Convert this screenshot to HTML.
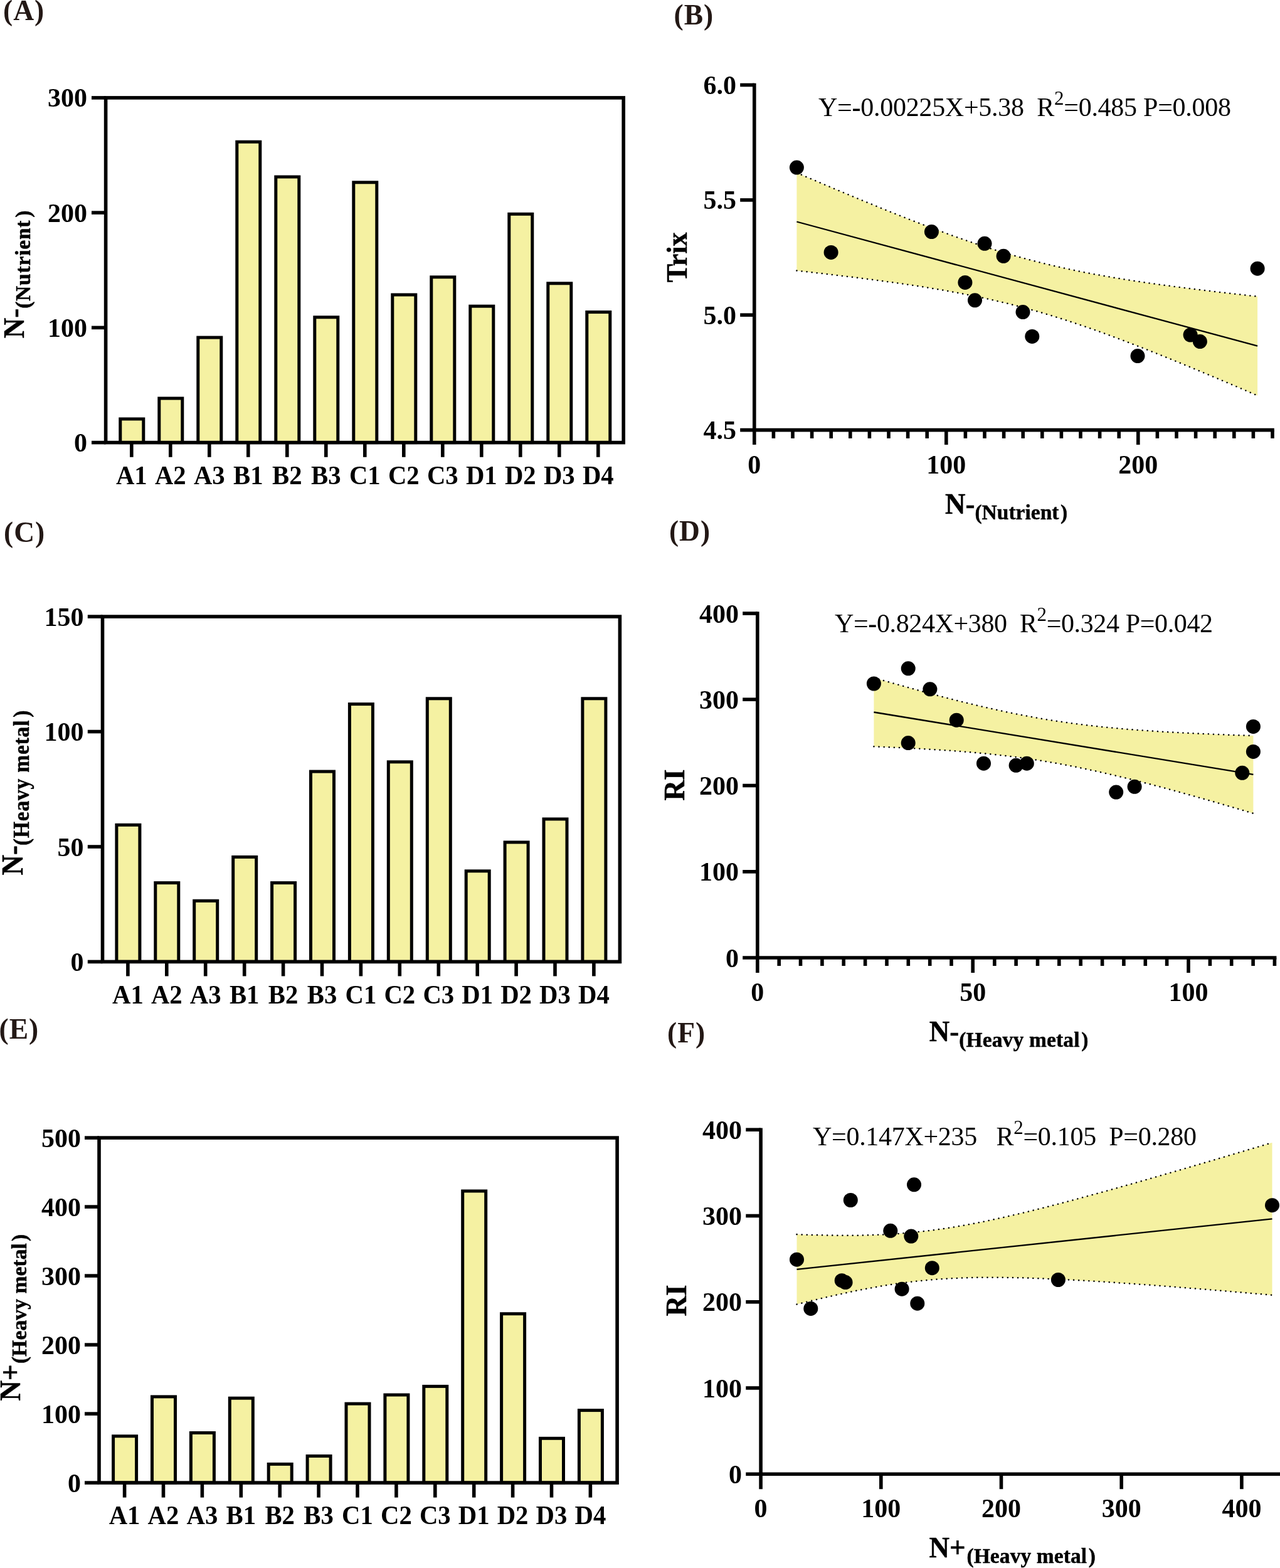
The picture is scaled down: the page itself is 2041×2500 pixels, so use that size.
<!DOCTYPE html>
<html lang="en">
<head>
<meta charset="utf-8">
<title>Figure: N- / N+ indices and regressions</title>
<style>
html,body{margin:0;padding:0;background:#fff;}
body{width:2041px;height:2500px;overflow:hidden;}
svg{display:block;}
svg text{font-family:"Liberation Serif","DejaVu Serif",serif;}
svg .ax{stroke:#000;fill:none;stroke-linecap:butt;stroke-linejoin:miter;}
</style>
</head>
<body>
<svg width="2041" height="2500" viewBox="0 0 2041 2500" role="img" aria-label="Six-panel figure: bar charts of N- and N+ indices by site and regressions against Trix and RI">
<rect width="2041" height="2500" fill="#fff"/>
<text x="5" y="32" font-size="45.5" text-anchor="start" font-weight="bold" fill="#231815" letter-spacing="1">(A)</text>
<text x="1074.6" y="39.2" font-size="45.5" text-anchor="start" font-weight="bold" fill="#231815" letter-spacing="1">(B)</text>
<text x="6.1" y="863.8" font-size="45.5" text-anchor="start" font-weight="bold" fill="#231815" letter-spacing="1">(C)</text>
<text x="1066.9" y="862" font-size="45.5" text-anchor="start" font-weight="bold" fill="#231815" letter-spacing="1">(D)</text>
<text x="-1.5" y="1655.8" font-size="45.5" text-anchor="start" font-weight="bold" fill="#231815" letter-spacing="1">(E)</text>
<text x="1064" y="1661.9" font-size="45.5" text-anchor="start" font-weight="bold" fill="#231815" letter-spacing="1">(F)</text>
<g class="ax">
<rect x="191.8" y="668" width="37" height="37.6" fill="#f5f1a2" stroke-width="5"/>
<rect x="253.8" y="635.1" width="37" height="70.5" fill="#f5f1a2" stroke-width="5"/>
<rect x="315.8" y="538.1" width="37" height="167.5" fill="#f5f1a2" stroke-width="5"/>
<rect x="377.8" y="226.2" width="37" height="479.4" fill="#f5f1a2" stroke-width="5"/>
<rect x="439.8" y="282" width="37" height="423.6" fill="#f5f1a2" stroke-width="5"/>
<rect x="501.8" y="505.8" width="37" height="199.8" fill="#f5f1a2" stroke-width="5"/>
<rect x="563.8" y="290.8" width="37" height="414.8" fill="#f5f1a2" stroke-width="5"/>
<rect x="625.8" y="470" width="37" height="235.6" fill="#f5f1a2" stroke-width="5"/>
<rect x="687.8" y="441.8" width="37" height="263.8" fill="#f5f1a2" stroke-width="5"/>
<rect x="749.8" y="488.2" width="37" height="217.4" fill="#f5f1a2" stroke-width="5"/>
<rect x="811.8" y="341.3" width="37" height="364.3" fill="#f5f1a2" stroke-width="5"/>
<rect x="873.8" y="451.8" width="37" height="253.8" fill="#f5f1a2" stroke-width="5"/>
<rect x="935.8" y="497.6" width="37" height="208" fill="#f5f1a2" stroke-width="5"/>
<rect x="168.6" y="155.9" width="825.6" height="549.7" fill="none" stroke-width="5.6"/>
<line x1="146" y1="155.9" x2="168.6" y2="155.9" stroke-width="5.6"/>
<line x1="146" y1="339.1" x2="168.6" y2="339.1" stroke-width="5.6"/>
<line x1="146" y1="522.4" x2="168.6" y2="522.4" stroke-width="5.6"/>
<line x1="146" y1="705.6" x2="168.6" y2="705.6" stroke-width="5.6"/>
<line x1="209.8" y1="705.6" x2="209.8" y2="728.8" stroke-width="5.6"/>
<line x1="271.8" y1="705.6" x2="271.8" y2="728.8" stroke-width="5.6"/>
<line x1="333.8" y1="705.6" x2="333.8" y2="728.8" stroke-width="5.6"/>
<line x1="395.8" y1="705.6" x2="395.8" y2="728.8" stroke-width="5.6"/>
<line x1="457.8" y1="705.6" x2="457.8" y2="728.8" stroke-width="5.6"/>
<line x1="519.8" y1="705.6" x2="519.8" y2="728.8" stroke-width="5.6"/>
<line x1="581.8" y1="705.6" x2="581.8" y2="728.8" stroke-width="5.6"/>
<line x1="643.8" y1="705.6" x2="643.8" y2="728.8" stroke-width="5.6"/>
<line x1="705.8" y1="705.6" x2="705.8" y2="728.8" stroke-width="5.6"/>
<line x1="767.8" y1="705.6" x2="767.8" y2="728.8" stroke-width="5.6"/>
<line x1="829.8" y1="705.6" x2="829.8" y2="728.8" stroke-width="5.6"/>
<line x1="891.8" y1="705.6" x2="891.8" y2="728.8" stroke-width="5.6"/>
<line x1="953.8" y1="705.6" x2="953.8" y2="728.8" stroke-width="5.6"/>
</g>
<text x="139" y="170.4" font-size="42" text-anchor="end" font-weight="bold" fill="#000">300</text>
<text x="139" y="353.6" font-size="42" text-anchor="end" font-weight="bold" fill="#000">200</text>
<text x="139" y="536.9" font-size="42" text-anchor="end" font-weight="bold" fill="#000">100</text>
<text x="139" y="720.1" font-size="42" text-anchor="end" font-weight="bold" fill="#000">0</text>
<text transform="translate(209.8 772) scale(0.97 1)" font-size="42" text-anchor="middle" font-weight="bold" fill="#000">A1</text>
<text transform="translate(271.8 772) scale(0.97 1)" font-size="42" text-anchor="middle" font-weight="bold" fill="#000">A2</text>
<text transform="translate(333.8 772) scale(0.97 1)" font-size="42" text-anchor="middle" font-weight="bold" fill="#000">A3</text>
<text transform="translate(395.8 772) scale(0.97 1)" font-size="42" text-anchor="middle" font-weight="bold" fill="#000">B1</text>
<text transform="translate(457.8 772) scale(0.97 1)" font-size="42" text-anchor="middle" font-weight="bold" fill="#000">B2</text>
<text transform="translate(519.8 772) scale(0.97 1)" font-size="42" text-anchor="middle" font-weight="bold" fill="#000">B3</text>
<text transform="translate(581.8 772) scale(0.97 1)" font-size="42" text-anchor="middle" font-weight="bold" fill="#000">C1</text>
<text transform="translate(643.8 772) scale(0.97 1)" font-size="42" text-anchor="middle" font-weight="bold" fill="#000">C2</text>
<text transform="translate(705.8 772) scale(0.97 1)" font-size="42" text-anchor="middle" font-weight="bold" fill="#000">C3</text>
<text transform="translate(767.8 772) scale(0.97 1)" font-size="42" text-anchor="middle" font-weight="bold" fill="#000">D1</text>
<text transform="translate(829.8 772) scale(0.97 1)" font-size="42" text-anchor="middle" font-weight="bold" fill="#000">D2</text>
<text transform="translate(891.8 772) scale(0.97 1)" font-size="42" text-anchor="middle" font-weight="bold" fill="#000">D3</text>
<text transform="translate(953.8 772) scale(0.97 1)" font-size="42" text-anchor="middle" font-weight="bold" fill="#000">D4</text>
<text transform="translate(38 539.3) rotate(-90) scale(1 1.03)" font-size="45" font-weight="bold" fill="#000" stroke="#000" stroke-width="0.5" stroke-linejoin="round" text-anchor="start">N-<tspan font-size="33.5" dx="0" dy="9.3" letter-spacing="0.8">(Nutrient</tspan><tspan font-size="33.5" dx="4">)</tspan></text>
<g class="ax">
<rect x="185.9" y="1315.3" width="37" height="218.1" fill="#f5f1a2" stroke-width="5"/>
<rect x="247.8" y="1407.6" width="37" height="125.8" fill="#f5f1a2" stroke-width="5"/>
<rect x="309.7" y="1436.3" width="37" height="97.1" fill="#f5f1a2" stroke-width="5"/>
<rect x="371.7" y="1366.4" width="37" height="167" fill="#f5f1a2" stroke-width="5"/>
<rect x="433.6" y="1407.6" width="37" height="125.8" fill="#f5f1a2" stroke-width="5"/>
<rect x="495.5" y="1230.1" width="37" height="303.3" fill="#f5f1a2" stroke-width="5"/>
<rect x="557.4" y="1122.6" width="37" height="410.8" fill="#f5f1a2" stroke-width="5"/>
<rect x="619.3" y="1214.8" width="37" height="318.6" fill="#f5f1a2" stroke-width="5"/>
<rect x="681.3" y="1113.8" width="37" height="419.6" fill="#f5f1a2" stroke-width="5"/>
<rect x="743.2" y="1388.8" width="37" height="144.6" fill="#f5f1a2" stroke-width="5"/>
<rect x="805.1" y="1342.9" width="37" height="190.5" fill="#f5f1a2" stroke-width="5"/>
<rect x="867" y="1305.9" width="37" height="227.5" fill="#f5f1a2" stroke-width="5"/>
<rect x="928.9" y="1113.8" width="37" height="419.6" fill="#f5f1a2" stroke-width="5"/>
<rect x="163.5" y="983.1" width="824.9" height="550.3" fill="none" stroke-width="5.6"/>
<line x1="139.8" y1="983.1" x2="163.5" y2="983.1" stroke-width="5.6"/>
<line x1="139.8" y1="1166.5" x2="163.5" y2="1166.5" stroke-width="5.6"/>
<line x1="139.8" y1="1350" x2="163.5" y2="1350" stroke-width="5.6"/>
<line x1="139.8" y1="1533.4" x2="163.5" y2="1533.4" stroke-width="5.6"/>
<line x1="203.9" y1="1533.4" x2="203.9" y2="1556.4" stroke-width="5.6"/>
<line x1="265.8" y1="1533.4" x2="265.8" y2="1556.4" stroke-width="5.6"/>
<line x1="327.7" y1="1533.4" x2="327.7" y2="1556.4" stroke-width="5.6"/>
<line x1="389.7" y1="1533.4" x2="389.7" y2="1556.4" stroke-width="5.6"/>
<line x1="451.6" y1="1533.4" x2="451.6" y2="1556.4" stroke-width="5.6"/>
<line x1="513.5" y1="1533.4" x2="513.5" y2="1556.4" stroke-width="5.6"/>
<line x1="575.4" y1="1533.4" x2="575.4" y2="1556.4" stroke-width="5.6"/>
<line x1="637.3" y1="1533.4" x2="637.3" y2="1556.4" stroke-width="5.6"/>
<line x1="699.3" y1="1533.4" x2="699.3" y2="1556.4" stroke-width="5.6"/>
<line x1="761.2" y1="1533.4" x2="761.2" y2="1556.4" stroke-width="5.6"/>
<line x1="823.1" y1="1533.4" x2="823.1" y2="1556.4" stroke-width="5.6"/>
<line x1="885" y1="1533.4" x2="885" y2="1556.4" stroke-width="5.6"/>
<line x1="946.9" y1="1533.4" x2="946.9" y2="1556.4" stroke-width="5.6"/>
</g>
<text x="133.5" y="997.9" font-size="42" text-anchor="end" font-weight="bold" fill="#000">150</text>
<text x="133.5" y="1181.3" font-size="42" text-anchor="end" font-weight="bold" fill="#000">100</text>
<text x="133.5" y="1364.8" font-size="42" text-anchor="end" font-weight="bold" fill="#000">50</text>
<text x="133.5" y="1548.2" font-size="42" text-anchor="end" font-weight="bold" fill="#000">0</text>
<text transform="translate(203.9 1600) scale(0.97 1)" font-size="42" text-anchor="middle" font-weight="bold" fill="#000">A1</text>
<text transform="translate(265.8 1600) scale(0.97 1)" font-size="42" text-anchor="middle" font-weight="bold" fill="#000">A2</text>
<text transform="translate(327.7 1600) scale(0.97 1)" font-size="42" text-anchor="middle" font-weight="bold" fill="#000">A3</text>
<text transform="translate(389.7 1600) scale(0.97 1)" font-size="42" text-anchor="middle" font-weight="bold" fill="#000">B1</text>
<text transform="translate(451.6 1600) scale(0.97 1)" font-size="42" text-anchor="middle" font-weight="bold" fill="#000">B2</text>
<text transform="translate(513.5 1600) scale(0.97 1)" font-size="42" text-anchor="middle" font-weight="bold" fill="#000">B3</text>
<text transform="translate(575.4 1600) scale(0.97 1)" font-size="42" text-anchor="middle" font-weight="bold" fill="#000">C1</text>
<text transform="translate(637.3 1600) scale(0.97 1)" font-size="42" text-anchor="middle" font-weight="bold" fill="#000">C2</text>
<text transform="translate(699.3 1600) scale(0.97 1)" font-size="42" text-anchor="middle" font-weight="bold" fill="#000">C3</text>
<text transform="translate(761.2 1600) scale(0.97 1)" font-size="42" text-anchor="middle" font-weight="bold" fill="#000">D1</text>
<text transform="translate(823.1 1600) scale(0.97 1)" font-size="42" text-anchor="middle" font-weight="bold" fill="#000">D2</text>
<text transform="translate(885 1600) scale(0.97 1)" font-size="42" text-anchor="middle" font-weight="bold" fill="#000">D3</text>
<text transform="translate(946.9 1600) scale(0.97 1)" font-size="42" text-anchor="middle" font-weight="bold" fill="#000">D4</text>
<text transform="translate(36 1395.5) rotate(-90) scale(1 1.08)" font-size="45" font-weight="bold" fill="#000" stroke="#000" stroke-width="0.5" stroke-linejoin="round" text-anchor="start">N-<tspan font-size="33.5" dx="0" dy="8.8" letter-spacing="0.8">(Heavy metal</tspan><tspan font-size="33.5" dx="4">)</tspan></text>
<g class="ax">
<rect x="180.6" y="2289.8" width="37" height="74.3" fill="#f5f1a2" stroke-width="5"/>
<rect x="242.5" y="2226.9" width="37" height="137.2" fill="#f5f1a2" stroke-width="5"/>
<rect x="304.4" y="2284.5" width="37" height="79.6" fill="#f5f1a2" stroke-width="5"/>
<rect x="366.3" y="2229.2" width="37" height="134.9" fill="#f5f1a2" stroke-width="5"/>
<rect x="428.2" y="2334.4" width="37" height="29.7" fill="#f5f1a2" stroke-width="5"/>
<rect x="490.1" y="2321.5" width="37" height="42.6" fill="#f5f1a2" stroke-width="5"/>
<rect x="552" y="2238.1" width="37" height="126" fill="#f5f1a2" stroke-width="5"/>
<rect x="613.9" y="2224" width="37" height="140.1" fill="#f5f1a2" stroke-width="5"/>
<rect x="675.8" y="2210.4" width="37" height="153.7" fill="#f5f1a2" stroke-width="5"/>
<rect x="737.7" y="1899" width="37" height="465.1" fill="#f5f1a2" stroke-width="5"/>
<rect x="799.6" y="2094.7" width="37" height="269.4" fill="#f5f1a2" stroke-width="5"/>
<rect x="861.5" y="2293.3" width="37" height="70.8" fill="#f5f1a2" stroke-width="5"/>
<rect x="923.4" y="2248.6" width="37" height="115.5" fill="#f5f1a2" stroke-width="5"/>
<rect x="158" y="1814.1" width="826.1" height="550" fill="none" stroke-width="5.6"/>
<line x1="135" y1="1814.1" x2="158" y2="1814.1" stroke-width="5.6"/>
<line x1="135" y1="1924.1" x2="158" y2="1924.1" stroke-width="5.6"/>
<line x1="135" y1="2034.1" x2="158" y2="2034.1" stroke-width="5.6"/>
<line x1="135" y1="2144.1" x2="158" y2="2144.1" stroke-width="5.6"/>
<line x1="135" y1="2254.1" x2="158" y2="2254.1" stroke-width="5.6"/>
<line x1="135" y1="2364.1" x2="158" y2="2364.1" stroke-width="5.6"/>
<line x1="198.6" y1="2364.1" x2="198.6" y2="2387.6" stroke-width="5.6"/>
<line x1="260.5" y1="2364.1" x2="260.5" y2="2387.6" stroke-width="5.6"/>
<line x1="322.4" y1="2364.1" x2="322.4" y2="2387.6" stroke-width="5.6"/>
<line x1="384.3" y1="2364.1" x2="384.3" y2="2387.6" stroke-width="5.6"/>
<line x1="446.2" y1="2364.1" x2="446.2" y2="2387.6" stroke-width="5.6"/>
<line x1="508.1" y1="2364.1" x2="508.1" y2="2387.6" stroke-width="5.6"/>
<line x1="570" y1="2364.1" x2="570" y2="2387.6" stroke-width="5.6"/>
<line x1="631.9" y1="2364.1" x2="631.9" y2="2387.6" stroke-width="5.6"/>
<line x1="693.8" y1="2364.1" x2="693.8" y2="2387.6" stroke-width="5.6"/>
<line x1="755.7" y1="2364.1" x2="755.7" y2="2387.6" stroke-width="5.6"/>
<line x1="817.6" y1="2364.1" x2="817.6" y2="2387.6" stroke-width="5.6"/>
<line x1="879.5" y1="2364.1" x2="879.5" y2="2387.6" stroke-width="5.6"/>
<line x1="941.4" y1="2364.1" x2="941.4" y2="2387.6" stroke-width="5.6"/>
</g>
<text x="129" y="1828.6" font-size="42" text-anchor="end" font-weight="bold" fill="#000">500</text>
<text x="129" y="1938.6" font-size="42" text-anchor="end" font-weight="bold" fill="#000">400</text>
<text x="129" y="2048.6" font-size="42" text-anchor="end" font-weight="bold" fill="#000">300</text>
<text x="129" y="2158.6" font-size="42" text-anchor="end" font-weight="bold" fill="#000">200</text>
<text x="129" y="2268.6" font-size="42" text-anchor="end" font-weight="bold" fill="#000">100</text>
<text x="129" y="2378.6" font-size="42" text-anchor="end" font-weight="bold" fill="#000">0</text>
<text transform="translate(198.6 2430) scale(0.97 1)" font-size="42" text-anchor="middle" font-weight="bold" fill="#000">A1</text>
<text transform="translate(260.5 2430) scale(0.97 1)" font-size="42" text-anchor="middle" font-weight="bold" fill="#000">A2</text>
<text transform="translate(322.4 2430) scale(0.97 1)" font-size="42" text-anchor="middle" font-weight="bold" fill="#000">A3</text>
<text transform="translate(384.3 2430) scale(0.97 1)" font-size="42" text-anchor="middle" font-weight="bold" fill="#000">B1</text>
<text transform="translate(446.2 2430) scale(0.97 1)" font-size="42" text-anchor="middle" font-weight="bold" fill="#000">B2</text>
<text transform="translate(508.1 2430) scale(0.97 1)" font-size="42" text-anchor="middle" font-weight="bold" fill="#000">B3</text>
<text transform="translate(570 2430) scale(0.97 1)" font-size="42" text-anchor="middle" font-weight="bold" fill="#000">C1</text>
<text transform="translate(631.9 2430) scale(0.97 1)" font-size="42" text-anchor="middle" font-weight="bold" fill="#000">C2</text>
<text transform="translate(693.8 2430) scale(0.97 1)" font-size="42" text-anchor="middle" font-weight="bold" fill="#000">C3</text>
<text transform="translate(755.7 2430) scale(0.97 1)" font-size="42" text-anchor="middle" font-weight="bold" fill="#000">D1</text>
<text transform="translate(817.6 2430) scale(0.97 1)" font-size="42" text-anchor="middle" font-weight="bold" fill="#000">D2</text>
<text transform="translate(879.5 2430) scale(0.97 1)" font-size="42" text-anchor="middle" font-weight="bold" fill="#000">D3</text>
<text transform="translate(941.4 2430) scale(0.97 1)" font-size="42" text-anchor="middle" font-weight="bold" fill="#000">D4</text>
<text transform="translate(32 2233.5) rotate(-90) scale(1 1.03)" font-size="45" font-weight="bold" fill="#000" stroke="#000" stroke-width="0.5" stroke-linejoin="round" text-anchor="start">N+<tspan font-size="33.5" dx="1.5" dy="9.3" letter-spacing="0.1">(Heavy metal</tspan><tspan font-size="33.5" dx="3">)</tspan></text>
<path d="M1270.4 275.4 L1285.7 282 L1301 288.5 L1316.3 295 L1331.6 301.5 L1346.9 307.9 L1362.2 314.3 L1377.5 320.6 L1392.9 326.9 L1408.2 333.2 L1423.5 339.3 L1438.8 345.4 L1454.1 351.4 L1469.4 357.3 L1484.7 363.1 L1500 368.8 L1515.3 374.4 L1530.6 379.9 L1545.9 385.2 L1561.2 390.3 L1576.5 395.3 L1591.8 400.1 L1607.1 404.7 L1622.4 409 L1637.8 413.2 L1653.1 417.2 L1668.4 421 L1683.7 424.6 L1699 428 L1714.3 431.2 L1729.6 434.3 L1744.9 437.2 L1760.2 439.9 L1775.5 442.6 L1790.8 445.1 L1806.1 447.5 L1821.4 449.8 L1836.7 452 L1852 454.2 L1867.3 456.2 L1882.7 458.2 L1898 460.2 L1913.3 462.1 L1928.6 463.9 L1943.9 465.8 L1959.2 467.5 L1974.5 469.3 L1989.8 471 L2005.1 472.7 L2005.1 630.7 L1989.8 624.2 L1974.5 617.6 L1959.2 611.1 L1943.9 604.6 L1928.6 598.2 L1913.3 591.8 L1898 585.4 L1882.7 579.1 L1867.3 572.9 L1852 566.7 L1836.7 560.6 L1821.4 554.5 L1806.1 548.6 L1790.8 542.7 L1775.5 537 L1760.2 531.3 L1744.9 525.8 L1729.6 520.5 L1714.3 515.3 L1699 510.2 L1683.7 505.4 L1668.4 500.7 L1653.1 496.2 L1637.8 492 L1622.4 487.9 L1607.1 484 L1591.8 480.4 L1576.5 476.9 L1561.2 473.6 L1545.9 470.5 L1530.6 467.5 L1515.3 464.7 L1500 462 L1484.7 459.5 L1469.4 457 L1454.1 454.7 L1438.8 452.4 L1423.5 450.3 L1408.2 448.2 L1392.9 446.1 L1377.5 444.2 L1362.2 442.2 L1346.9 440.4 L1331.6 438.5 L1316.3 436.7 L1301 435 L1285.7 433.2 L1270.4 431.6 Z" fill="#f5f1a2" stroke="none"/>
<path d="M1270.4 275.4 L1285.7 282 L1301 288.5 L1316.3 295 L1331.6 301.5 L1346.9 307.9 L1362.2 314.3 L1377.5 320.6 L1392.9 326.9 L1408.2 333.2 L1423.5 339.3 L1438.8 345.4 L1454.1 351.4 L1469.4 357.3 L1484.7 363.1 L1500 368.8 L1515.3 374.4 L1530.6 379.9 L1545.9 385.2 L1561.2 390.3 L1576.5 395.3 L1591.8 400.1 L1607.1 404.7 L1622.4 409 L1637.8 413.2 L1653.1 417.2 L1668.4 421 L1683.7 424.6 L1699 428 L1714.3 431.2 L1729.6 434.3 L1744.9 437.2 L1760.2 439.9 L1775.5 442.6 L1790.8 445.1 L1806.1 447.5 L1821.4 449.8 L1836.7 452 L1852 454.2 L1867.3 456.2 L1882.7 458.2 L1898 460.2 L1913.3 462.1 L1928.6 463.9 L1943.9 465.8 L1959.2 467.5 L1974.5 469.3 L1989.8 471 L2005.1 472.7" fill="none" stroke="#000" stroke-width="2.5" stroke-dasharray="0.1 8" stroke-linecap="round"/>
<path d="M1270.4 431.6 L1285.7 433.2 L1301 435 L1316.3 436.7 L1331.6 438.5 L1346.9 440.4 L1362.2 442.2 L1377.5 444.2 L1392.9 446.1 L1408.2 448.2 L1423.5 450.3 L1438.8 452.4 L1454.1 454.7 L1469.4 457 L1484.7 459.5 L1500 462 L1515.3 464.7 L1530.6 467.5 L1545.9 470.5 L1561.2 473.6 L1576.5 476.9 L1591.8 480.4 L1607.1 484 L1622.4 487.9 L1637.8 492 L1653.1 496.2 L1668.4 500.7 L1683.7 505.4 L1699 510.2 L1714.3 515.3 L1729.6 520.5 L1744.9 525.8 L1760.2 531.3 L1775.5 537 L1790.8 542.7 L1806.1 548.6 L1821.4 554.5 L1836.7 560.6 L1852 566.7 L1867.3 572.9 L1882.7 579.1 L1898 585.4 L1913.3 591.8 L1928.6 598.2 L1943.9 604.6 L1959.2 611.1 L1974.5 617.6 L1989.8 624.2 L2005.1 630.7" fill="none" stroke="#000" stroke-width="2.5" stroke-dasharray="0.1 8" stroke-linecap="round"/>
<line x1="1270.4" y1="353.5" x2="2005.1" y2="551.7" stroke="#000" stroke-width="2.3"/>
<circle cx="1270.4" cy="267.1" r="11.5" fill="#000"/>
<circle cx="1325.1" cy="402.4" r="11.5" fill="#000"/>
<circle cx="1485.4" cy="369.6" r="11.5" fill="#000"/>
<circle cx="1570" cy="388.3" r="11.5" fill="#000"/>
<circle cx="1600.1" cy="408.3" r="11.5" fill="#000"/>
<circle cx="1538.9" cy="450.4" r="11.5" fill="#000"/>
<circle cx="1554.5" cy="478.8" r="11.5" fill="#000"/>
<circle cx="1631" cy="497.6" r="11.5" fill="#000"/>
<circle cx="1645.8" cy="536.4" r="11.5" fill="#000"/>
<circle cx="1814" cy="567.6" r="11.5" fill="#000"/>
<circle cx="1898.1" cy="534" r="11.5" fill="#000"/>
<circle cx="1913.4" cy="544.6" r="11.5" fill="#000"/>
<circle cx="2005.1" cy="428.2" r="11.5" fill="#000"/>
<g class="ax">
<line x1="1202.8" y1="132.7" x2="1202.8" y2="709.1" stroke-width="5.6"/>
<line x1="1180.2" y1="685.6" x2="2031.8" y2="685.6" stroke-width="5.6"/>
<line x1="1180.2" y1="135.5" x2="1202.8" y2="135.5" stroke-width="5.6"/>
<line x1="1180.2" y1="318.9" x2="1202.8" y2="318.9" stroke-width="5.6"/>
<line x1="1180.2" y1="502.2" x2="1202.8" y2="502.2" stroke-width="5.6"/>
<line x1="1508.8" y1="685.6" x2="1508.8" y2="709.1" stroke-width="5.6"/>
<line x1="1814.8" y1="685.6" x2="1814.8" y2="709.1" stroke-width="5.6"/>
<line x1="1233.4" y1="685.6" x2="1233.4" y2="698.9" stroke-width="5.6"/>
<line x1="1264" y1="685.6" x2="1264" y2="698.9" stroke-width="5.6"/>
<line x1="1294.6" y1="685.6" x2="1294.6" y2="698.9" stroke-width="5.6"/>
<line x1="1325.2" y1="685.6" x2="1325.2" y2="698.9" stroke-width="5.6"/>
<line x1="1355.8" y1="685.6" x2="1355.8" y2="698.9" stroke-width="5.6"/>
<line x1="1386.4" y1="685.6" x2="1386.4" y2="698.9" stroke-width="5.6"/>
<line x1="1417" y1="685.6" x2="1417" y2="698.9" stroke-width="5.6"/>
<line x1="1447.6" y1="685.6" x2="1447.6" y2="698.9" stroke-width="5.6"/>
<line x1="1478.2" y1="685.6" x2="1478.2" y2="698.9" stroke-width="5.6"/>
<line x1="1539.4" y1="685.6" x2="1539.4" y2="698.9" stroke-width="5.6"/>
<line x1="1570" y1="685.6" x2="1570" y2="698.9" stroke-width="5.6"/>
<line x1="1600.6" y1="685.6" x2="1600.6" y2="698.9" stroke-width="5.6"/>
<line x1="1631.2" y1="685.6" x2="1631.2" y2="698.9" stroke-width="5.6"/>
<line x1="1661.8" y1="685.6" x2="1661.8" y2="698.9" stroke-width="5.6"/>
<line x1="1692.4" y1="685.6" x2="1692.4" y2="698.9" stroke-width="5.6"/>
<line x1="1723" y1="685.6" x2="1723" y2="698.9" stroke-width="5.6"/>
<line x1="1753.6" y1="685.6" x2="1753.6" y2="698.9" stroke-width="5.6"/>
<line x1="1784.2" y1="685.6" x2="1784.2" y2="698.9" stroke-width="5.6"/>
<line x1="1845.4" y1="685.6" x2="1845.4" y2="698.9" stroke-width="5.6"/>
<line x1="1876" y1="685.6" x2="1876" y2="698.9" stroke-width="5.6"/>
<line x1="1906.6" y1="685.6" x2="1906.6" y2="698.9" stroke-width="5.6"/>
<line x1="1937.2" y1="685.6" x2="1937.2" y2="698.9" stroke-width="5.6"/>
<line x1="1967.8" y1="685.6" x2="1967.8" y2="698.9" stroke-width="5.6"/>
<line x1="1998.4" y1="685.6" x2="1998.4" y2="698.9" stroke-width="5.6"/>
<line x1="2029" y1="685.6" x2="2029" y2="698.9" stroke-width="5.6"/>
</g>
<text x="1174" y="150" font-size="42" text-anchor="end" font-weight="bold" fill="#000">6.0</text>
<text x="1174" y="333.4" font-size="42" text-anchor="end" font-weight="bold" fill="#000">5.5</text>
<text x="1174" y="516.7" font-size="42" text-anchor="end" font-weight="bold" fill="#000">5.0</text>
<text x="1174" y="700.1" font-size="42" text-anchor="end" font-weight="bold" fill="#000">4.5</text>
<text x="1202.8" y="754.5" font-size="42" text-anchor="middle" font-weight="bold" fill="#000">0</text>
<text x="1508.8" y="754.5" font-size="42" text-anchor="middle" font-weight="bold" fill="#000">100</text>
<text x="1814.8" y="754.5" font-size="42" text-anchor="middle" font-weight="bold" fill="#000">200</text>
<text x="1305" y="185" font-size="42" fill="#000" style="white-space:pre" textLength="658" lengthAdjust="spacing">Y=<tspan font-weight="bold">-</tspan>0.00225X+5.38  R<tspan font-size="31" dy="-18.5">2</tspan><tspan dy="18.5">=0.485 P=0.008</tspan></text>
<text transform="translate(1095 410.3) rotate(-90) scale(1 1.07)" font-size="44" font-weight="bold" fill="#000" stroke="#000" stroke-width="0.5" stroke-linejoin="round" text-anchor="middle">Trix</text>
<text transform="translate(1507 819) scale(1 1.03)" font-size="45" font-weight="bold" fill="#000" stroke="#000" stroke-width="0.5" stroke-linejoin="round" text-anchor="start">N-<tspan font-size="33.5" dx="0" dy="8.6" letter-spacing="0">(Nutrient</tspan><tspan font-size="33.5" dx="2.5">)</tspan></text>
<path d="M1393.4 1080.6 L1406 1084.2 L1418.6 1087.8 L1431.2 1091.4 L1443.8 1094.9 L1456.4 1098.4 L1469 1101.9 L1481.6 1105.3 L1494.2 1108.7 L1506.8 1112 L1519.4 1115.2 L1532 1118.4 L1544.7 1121.5 L1557.3 1124.5 L1569.9 1127.5 L1582.5 1130.3 L1595.1 1133.1 L1607.7 1135.8 L1620.3 1138.3 L1632.9 1140.8 L1645.5 1143.1 L1658.1 1145.4 L1670.7 1147.5 L1683.3 1149.5 L1695.9 1151.3 L1708.5 1153.1 L1721.1 1154.7 L1733.7 1156.3 L1746.3 1157.7 L1758.9 1159.1 L1771.5 1160.3 L1784.1 1161.5 L1796.7 1162.6 L1809.3 1163.6 L1821.9 1164.5 L1834.5 1165.4 L1847.2 1166.2 L1859.8 1167 L1872.4 1167.7 L1885 1168.4 L1897.6 1169 L1910.2 1169.6 L1922.8 1170.1 L1935.4 1170.7 L1948 1171.2 L1960.6 1171.7 L1973.2 1172.1 L1985.8 1172.5 L1998.4 1172.9 L1998.4 1296.8 L1985.8 1293.1 L1973.2 1289.3 L1960.6 1285.7 L1948 1282 L1935.4 1278.3 L1922.8 1274.7 L1910.2 1271.2 L1897.6 1267.6 L1885 1264.1 L1872.4 1260.6 L1859.8 1257.2 L1847.2 1253.8 L1834.5 1250.5 L1821.9 1247.3 L1809.3 1244 L1796.7 1240.9 L1784.1 1237.9 L1771.5 1234.9 L1758.9 1232 L1746.3 1229.2 L1733.7 1226.5 L1721.1 1223.9 L1708.5 1221.4 L1695.9 1219 L1683.3 1216.7 L1670.7 1214.6 L1658.1 1212.6 L1645.5 1210.6 L1632.9 1208.8 L1620.3 1207.1 L1607.7 1205.6 L1595.1 1204.1 L1582.5 1202.7 L1569.9 1201.4 L1557.3 1200.3 L1544.7 1199.1 L1532 1198.1 L1519.4 1197.1 L1506.8 1196.2 L1494.2 1195.4 L1481.6 1194.6 L1469 1193.9 L1456.4 1193.2 L1443.8 1192.6 L1431.2 1191.9 L1418.6 1191.4 L1406 1190.8 L1393.4 1190.3 Z" fill="#f5f1a2" stroke="none"/>
<path d="M1393.4 1080.6 L1406 1084.2 L1418.6 1087.8 L1431.2 1091.4 L1443.8 1094.9 L1456.4 1098.4 L1469 1101.9 L1481.6 1105.3 L1494.2 1108.7 L1506.8 1112 L1519.4 1115.2 L1532 1118.4 L1544.7 1121.5 L1557.3 1124.5 L1569.9 1127.5 L1582.5 1130.3 L1595.1 1133.1 L1607.7 1135.8 L1620.3 1138.3 L1632.9 1140.8 L1645.5 1143.1 L1658.1 1145.4 L1670.7 1147.5 L1683.3 1149.5 L1695.9 1151.3 L1708.5 1153.1 L1721.1 1154.7 L1733.7 1156.3 L1746.3 1157.7 L1758.9 1159.1 L1771.5 1160.3 L1784.1 1161.5 L1796.7 1162.6 L1809.3 1163.6 L1821.9 1164.5 L1834.5 1165.4 L1847.2 1166.2 L1859.8 1167 L1872.4 1167.7 L1885 1168.4 L1897.6 1169 L1910.2 1169.6 L1922.8 1170.1 L1935.4 1170.7 L1948 1171.2 L1960.6 1171.7 L1973.2 1172.1 L1985.8 1172.5 L1998.4 1172.9" fill="none" stroke="#000" stroke-width="2.5" stroke-dasharray="0.1 8" stroke-linecap="round"/>
<path d="M1393.4 1190.3 L1406 1190.8 L1418.6 1191.4 L1431.2 1191.9 L1443.8 1192.6 L1456.4 1193.2 L1469 1193.9 L1481.6 1194.6 L1494.2 1195.4 L1506.8 1196.2 L1519.4 1197.1 L1532 1198.1 L1544.7 1199.1 L1557.3 1200.3 L1569.9 1201.4 L1582.5 1202.7 L1595.1 1204.1 L1607.7 1205.6 L1620.3 1207.1 L1632.9 1208.8 L1645.5 1210.6 L1658.1 1212.6 L1670.7 1214.6 L1683.3 1216.7 L1695.9 1219 L1708.5 1221.4 L1721.1 1223.9 L1733.7 1226.5 L1746.3 1229.2 L1758.9 1232 L1771.5 1234.9 L1784.1 1237.9 L1796.7 1240.9 L1809.3 1244 L1821.9 1247.3 L1834.5 1250.5 L1847.2 1253.8 L1859.8 1257.2 L1872.4 1260.6 L1885 1264.1 L1897.6 1267.6 L1910.2 1271.2 L1922.8 1274.7 L1935.4 1278.3 L1948 1282 L1960.6 1285.7 L1973.2 1289.3 L1985.8 1293.1 L1998.4 1296.8" fill="none" stroke="#000" stroke-width="2.5" stroke-dasharray="0.1 8" stroke-linecap="round"/>
<line x1="1393.4" y1="1135.5" x2="1998.4" y2="1234.9" stroke="#000" stroke-width="2.3"/>
<circle cx="1393.4" cy="1090" r="11.5" fill="#000"/>
<circle cx="1448.2" cy="1065.8" r="11.5" fill="#000"/>
<circle cx="1482.9" cy="1098.8" r="11.5" fill="#000"/>
<circle cx="1525.2" cy="1148.2" r="11.5" fill="#000"/>
<circle cx="1448.2" cy="1184.6" r="11.5" fill="#000"/>
<circle cx="1568.5" cy="1217.2" r="11.5" fill="#000"/>
<circle cx="1620.1" cy="1220.3" r="11.5" fill="#000"/>
<circle cx="1637.3" cy="1217.2" r="11.5" fill="#000"/>
<circle cx="1779.7" cy="1263.1" r="11.5" fill="#000"/>
<circle cx="1809.1" cy="1254.3" r="11.5" fill="#000"/>
<circle cx="1980.8" cy="1232.3" r="11.5" fill="#000"/>
<circle cx="1998.4" cy="1198.4" r="11.5" fill="#000"/>
<circle cx="1998.4" cy="1158.4" r="11.5" fill="#000"/>
<g class="ax">
<line x1="1207.8" y1="975.2" x2="1207.8" y2="1551" stroke-width="5.6"/>
<line x1="1184.2" y1="1527" x2="2035.4" y2="1527" stroke-width="5.6"/>
<line x1="1184.2" y1="978" x2="1207.8" y2="978" stroke-width="5.6"/>
<line x1="1184.2" y1="1115.2" x2="1207.8" y2="1115.2" stroke-width="5.6"/>
<line x1="1184.2" y1="1252.5" x2="1207.8" y2="1252.5" stroke-width="5.6"/>
<line x1="1184.2" y1="1389.8" x2="1207.8" y2="1389.8" stroke-width="5.6"/>
<line x1="1551.2" y1="1527" x2="1551.2" y2="1551" stroke-width="5.6"/>
<line x1="1895" y1="1527" x2="1895" y2="1551" stroke-width="5.6"/>
<line x1="1242.2" y1="1527" x2="1242.2" y2="1540" stroke-width="5.6"/>
<line x1="1276.5" y1="1527" x2="1276.5" y2="1540" stroke-width="5.6"/>
<line x1="1310.9" y1="1527" x2="1310.9" y2="1540" stroke-width="5.6"/>
<line x1="1345.2" y1="1527" x2="1345.2" y2="1540" stroke-width="5.6"/>
<line x1="1379.6" y1="1527" x2="1379.6" y2="1540" stroke-width="5.6"/>
<line x1="1414" y1="1527" x2="1414" y2="1540" stroke-width="5.6"/>
<line x1="1448.3" y1="1527" x2="1448.3" y2="1540" stroke-width="5.6"/>
<line x1="1482.7" y1="1527" x2="1482.7" y2="1540" stroke-width="5.6"/>
<line x1="1517" y1="1527" x2="1517" y2="1540" stroke-width="5.6"/>
<line x1="1585.8" y1="1527" x2="1585.8" y2="1540" stroke-width="5.6"/>
<line x1="1620.1" y1="1527" x2="1620.1" y2="1540" stroke-width="5.6"/>
<line x1="1654.5" y1="1527" x2="1654.5" y2="1540" stroke-width="5.6"/>
<line x1="1688.8" y1="1527" x2="1688.8" y2="1540" stroke-width="5.6"/>
<line x1="1723.2" y1="1527" x2="1723.2" y2="1540" stroke-width="5.6"/>
<line x1="1757.6" y1="1527" x2="1757.6" y2="1540" stroke-width="5.6"/>
<line x1="1791.9" y1="1527" x2="1791.9" y2="1540" stroke-width="5.6"/>
<line x1="1826.3" y1="1527" x2="1826.3" y2="1540" stroke-width="5.6"/>
<line x1="1860.6" y1="1527" x2="1860.6" y2="1540" stroke-width="5.6"/>
<line x1="1929.4" y1="1527" x2="1929.4" y2="1540" stroke-width="5.6"/>
<line x1="1963.7" y1="1527" x2="1963.7" y2="1540" stroke-width="5.6"/>
<line x1="1998.1" y1="1527" x2="1998.1" y2="1540" stroke-width="5.6"/>
<line x1="2032.4" y1="1527" x2="2032.4" y2="1540" stroke-width="5.6"/>
</g>
<text x="1178" y="992.5" font-size="42" text-anchor="end" font-weight="bold" fill="#000">400</text>
<text x="1178" y="1129.8" font-size="42" text-anchor="end" font-weight="bold" fill="#000">300</text>
<text x="1178" y="1267" font-size="42" text-anchor="end" font-weight="bold" fill="#000">200</text>
<text x="1178" y="1404.2" font-size="42" text-anchor="end" font-weight="bold" fill="#000">100</text>
<text x="1178" y="1541.5" font-size="42" text-anchor="end" font-weight="bold" fill="#000">0</text>
<text x="1207.8" y="1595.5" font-size="42" text-anchor="middle" font-weight="bold" fill="#000">0</text>
<text x="1551.2" y="1595.5" font-size="42" text-anchor="middle" font-weight="bold" fill="#000">50</text>
<text x="1895" y="1595.5" font-size="42" text-anchor="middle" font-weight="bold" fill="#000">100</text>
<text x="1331" y="1008" font-size="42" fill="#000" style="white-space:pre" textLength="603" lengthAdjust="spacing">Y=<tspan font-weight="bold">-</tspan>0.824X+380  R<tspan font-size="31" dy="-18.5">2</tspan><tspan dy="18.5">=0.324 P=0.042</tspan></text>
<text transform="translate(1090.8 1251.6) rotate(-90) scale(1 1.03)" font-size="45" font-weight="bold" fill="#000" stroke="#000" stroke-width="0.5" stroke-linejoin="round" text-anchor="middle">RI</text>
<text transform="translate(1481.7 1660.2) scale(1 1.03)" font-size="45" font-weight="bold" fill="#000" stroke="#000" stroke-width="0.5" stroke-linejoin="round" text-anchor="start">N-<tspan font-size="33.5" dx="0" dy="8.6" letter-spacing="0.15">(Heavy metal</tspan><tspan font-size="33.5" dx="2.5">)</tspan></text>
<path d="M1270.5 1968.1 L1286.3 1968.7 L1302.1 1969.1 L1317.9 1969.5 L1333.7 1969.7 L1349.5 1969.8 L1365.2 1969.7 L1381 1969.4 L1396.8 1968.9 L1412.6 1968.2 L1428.4 1967.2 L1444.2 1966 L1460 1964.5 L1475.8 1962.8 L1491.6 1960.8 L1507.4 1958.6 L1523.2 1956.1 L1539 1953.3 L1554.8 1950.4 L1570.5 1947.3 L1586.3 1943.9 L1602.1 1940.5 L1617.9 1936.8 L1633.7 1933.1 L1649.5 1929.2 L1665.3 1925.3 L1681.1 1921.2 L1696.9 1917.1 L1712.7 1912.9 L1728.5 1908.6 L1744.2 1904.3 L1760 1900 L1775.8 1895.6 L1791.6 1891.1 L1807.4 1886.7 L1823.2 1882.2 L1839 1877.6 L1854.8 1873.1 L1870.6 1868.5 L1886.4 1863.9 L1902.2 1859.3 L1918 1854.6 L1933.8 1850 L1949.5 1845.3 L1965.3 1840.6 L1981.1 1835.9 L1996.9 1831.2 L2012.7 1826.5 L2028.5 1821.8 L2028.5 2064.9 L2012.7 2063.5 L1996.9 2062.2 L1981.1 2060.8 L1965.3 2059.5 L1949.5 2058.1 L1933.8 2056.8 L1918 2055.5 L1902.2 2054.3 L1886.4 2053 L1870.6 2051.7 L1854.8 2050.5 L1839 2049.3 L1823.2 2048.1 L1807.4 2047 L1791.6 2045.9 L1775.8 2044.8 L1760 2043.7 L1744.2 2042.7 L1728.5 2041.8 L1712.7 2040.9 L1696.9 2040 L1681.1 2039.3 L1665.3 2038.6 L1649.5 2038 L1633.7 2037.4 L1617.9 2037.1 L1602.1 2036.8 L1586.3 2036.7 L1570.5 2036.7 L1554.8 2036.9 L1539 2037.3 L1523.2 2038 L1507.4 2038.8 L1491.6 2039.9 L1475.8 2041.3 L1460 2042.9 L1444.2 2044.8 L1428.4 2046.9 L1412.6 2049.3 L1396.8 2052 L1381 2054.9 L1365.2 2057.9 L1349.5 2061.2 L1333.7 2064.6 L1317.9 2068.2 L1302.1 2071.9 L1286.3 2075.7 L1270.5 2079.6 Z" fill="#f5f1a2" stroke="none"/>
<path d="M1270.5 1968.1 L1286.3 1968.7 L1302.1 1969.1 L1317.9 1969.5 L1333.7 1969.7 L1349.5 1969.8 L1365.2 1969.7 L1381 1969.4 L1396.8 1968.9 L1412.6 1968.2 L1428.4 1967.2 L1444.2 1966 L1460 1964.5 L1475.8 1962.8 L1491.6 1960.8 L1507.4 1958.6 L1523.2 1956.1 L1539 1953.3 L1554.8 1950.4 L1570.5 1947.3 L1586.3 1943.9 L1602.1 1940.5 L1617.9 1936.8 L1633.7 1933.1 L1649.5 1929.2 L1665.3 1925.3 L1681.1 1921.2 L1696.9 1917.1 L1712.7 1912.9 L1728.5 1908.6 L1744.2 1904.3 L1760 1900 L1775.8 1895.6 L1791.6 1891.1 L1807.4 1886.7 L1823.2 1882.2 L1839 1877.6 L1854.8 1873.1 L1870.6 1868.5 L1886.4 1863.9 L1902.2 1859.3 L1918 1854.6 L1933.8 1850 L1949.5 1845.3 L1965.3 1840.6 L1981.1 1835.9 L1996.9 1831.2 L2012.7 1826.5 L2028.5 1821.8" fill="none" stroke="#000" stroke-width="2.5" stroke-dasharray="0.1 8" stroke-linecap="round"/>
<path d="M1270.5 2079.6 L1286.3 2075.7 L1302.1 2071.9 L1317.9 2068.2 L1333.7 2064.6 L1349.5 2061.2 L1365.2 2057.9 L1381 2054.9 L1396.8 2052 L1412.6 2049.3 L1428.4 2046.9 L1444.2 2044.8 L1460 2042.9 L1475.8 2041.3 L1491.6 2039.9 L1507.4 2038.8 L1523.2 2038 L1539 2037.3 L1554.8 2036.9 L1570.5 2036.7 L1586.3 2036.7 L1602.1 2036.8 L1617.9 2037.1 L1633.7 2037.4 L1649.5 2038 L1665.3 2038.6 L1681.1 2039.3 L1696.9 2040 L1712.7 2040.9 L1728.5 2041.8 L1744.2 2042.7 L1760 2043.7 L1775.8 2044.8 L1791.6 2045.9 L1807.4 2047 L1823.2 2048.1 L1839 2049.3 L1854.8 2050.5 L1870.6 2051.7 L1886.4 2053 L1902.2 2054.3 L1918 2055.5 L1933.8 2056.8 L1949.5 2058.1 L1965.3 2059.5 L1981.1 2060.8 L1996.9 2062.2 L2012.7 2063.5 L2028.5 2064.9" fill="none" stroke="#000" stroke-width="2.5" stroke-dasharray="0.1 8" stroke-linecap="round"/>
<line x1="1270.5" y1="2023.9" x2="2028.5" y2="1943.3" stroke="#000" stroke-width="2.3"/>
<circle cx="1270.5" cy="2008.2" r="11.5" fill="#000"/>
<circle cx="1292.8" cy="2086.4" r="11.5" fill="#000"/>
<circle cx="1342.2" cy="2041.7" r="11.5" fill="#000"/>
<circle cx="1348.1" cy="2044.6" r="11.5" fill="#000"/>
<circle cx="1356.3" cy="1913.5" r="11.5" fill="#000"/>
<circle cx="1419.8" cy="1962.3" r="11.5" fill="#000"/>
<circle cx="1438.1" cy="2055.2" r="11.5" fill="#000"/>
<circle cx="1452.8" cy="1971.1" r="11.5" fill="#000"/>
<circle cx="1457.5" cy="1888.8" r="11.5" fill="#000"/>
<circle cx="1462.8" cy="2078.2" r="11.5" fill="#000"/>
<circle cx="1486.3" cy="2021.7" r="11.5" fill="#000"/>
<circle cx="1687.4" cy="2040.5" r="11.5" fill="#000"/>
<circle cx="2028.5" cy="1921.7" r="11.5" fill="#000"/>
<g class="ax">
<line x1="1213.1" y1="1798.4" x2="1213.1" y2="2374.2" stroke-width="5.6"/>
<line x1="1189.3" y1="2350.3" x2="2041" y2="2350.3" stroke-width="5.6"/>
<line x1="1189.3" y1="1801.2" x2="1213.1" y2="1801.2" stroke-width="5.6"/>
<line x1="1189.3" y1="1938.5" x2="1213.1" y2="1938.5" stroke-width="5.6"/>
<line x1="1189.3" y1="2075.8" x2="1213.1" y2="2075.8" stroke-width="5.6"/>
<line x1="1189.3" y1="2213" x2="1213.1" y2="2213" stroke-width="5.6"/>
<line x1="1404.8" y1="2350.3" x2="1404.8" y2="2374.2" stroke-width="5.6"/>
<line x1="1596.5" y1="2350.3" x2="1596.5" y2="2374.2" stroke-width="5.6"/>
<line x1="1788.2" y1="2350.3" x2="1788.2" y2="2374.2" stroke-width="5.6"/>
<line x1="1979.9" y1="2350.3" x2="1979.9" y2="2374.2" stroke-width="5.6"/>
</g>
<text x="1183" y="1815.7" font-size="42" text-anchor="end" font-weight="bold" fill="#000">400</text>
<text x="1183" y="1953" font-size="42" text-anchor="end" font-weight="bold" fill="#000">300</text>
<text x="1183" y="2090.2" font-size="42" text-anchor="end" font-weight="bold" fill="#000">200</text>
<text x="1183" y="2227.5" font-size="42" text-anchor="end" font-weight="bold" fill="#000">100</text>
<text x="1183" y="2364.8" font-size="42" text-anchor="end" font-weight="bold" fill="#000">0</text>
<text x="1213.1" y="2419" font-size="42" text-anchor="middle" font-weight="bold" fill="#000">0</text>
<text x="1404.8" y="2419" font-size="42" text-anchor="middle" font-weight="bold" fill="#000">100</text>
<text x="1596.5" y="2419" font-size="42" text-anchor="middle" font-weight="bold" fill="#000">200</text>
<text x="1788.2" y="2419" font-size="42" text-anchor="middle" font-weight="bold" fill="#000">300</text>
<text x="1979.9" y="2419" font-size="42" text-anchor="middle" font-weight="bold" fill="#000">400</text>
<text x="1296" y="1826" font-size="42" fill="#000" style="white-space:pre" textLength="612" lengthAdjust="spacing">Y=0.147X+235   R<tspan font-size="31" dy="-18.5">2</tspan><tspan dy="18.5">=0.105  P=0.280</tspan></text>
<text transform="translate(1093.8 2073.6) rotate(-90) scale(1 1.03)" font-size="45" font-weight="bold" fill="#000" stroke="#000" stroke-width="0.5" stroke-linejoin="round" text-anchor="middle">RI</text>
<text transform="translate(1481.6 2483.2) scale(1 1.03)" font-size="45" font-weight="bold" fill="#000" stroke="#000" stroke-width="0.5" stroke-linejoin="round" text-anchor="start">N+<tspan font-size="33.5" dx="1.7" dy="8.6" letter-spacing="0.1">(Heavy metal</tspan><tspan font-size="33.5" dx="2.5">)</tspan></text>
</svg>
</body>
</html>
